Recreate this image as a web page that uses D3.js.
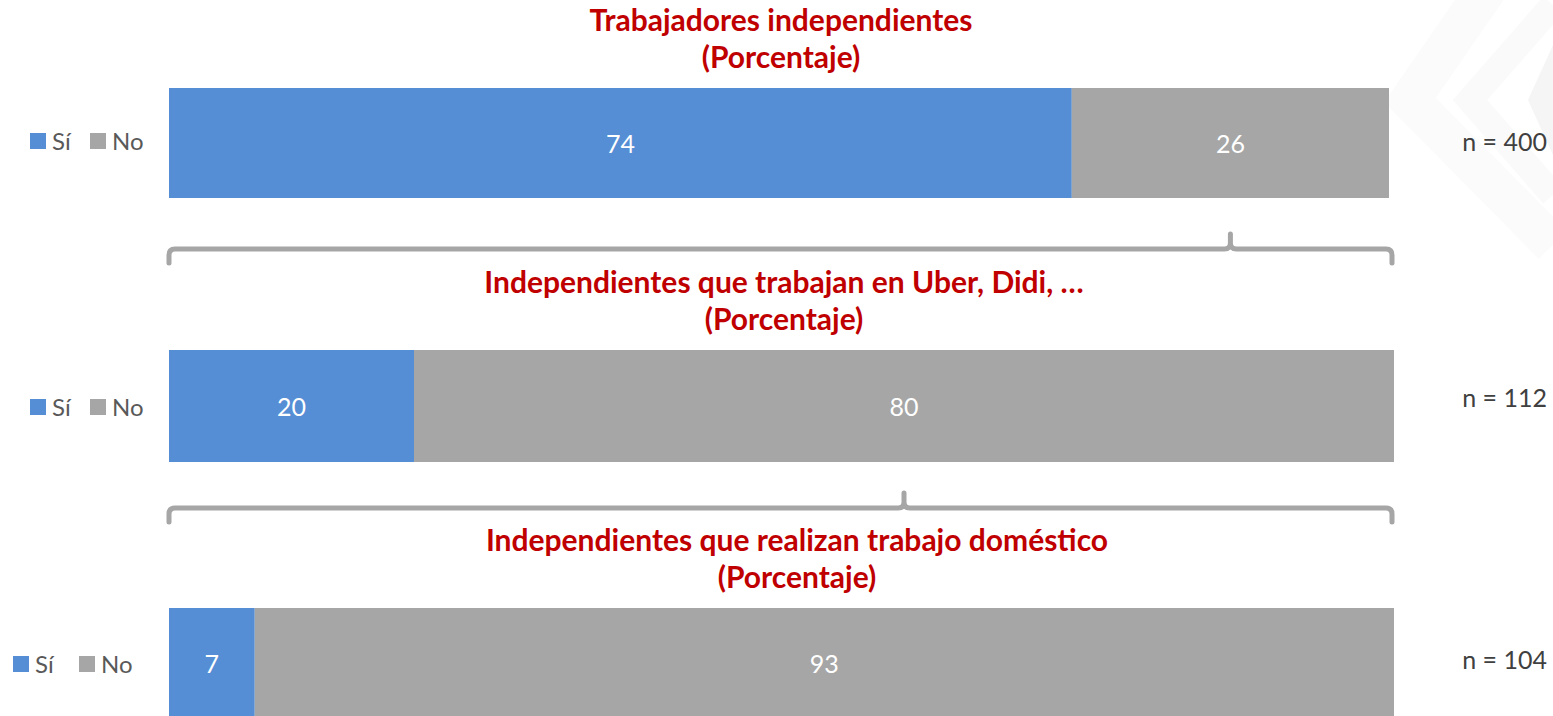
<!DOCTYPE html>
<html>
<head>
<meta charset="utf-8">
<script src="https://cdn.jsdelivr.net/npm/d3@7"></script>
<style>
  html, body { margin: 0; padding: 0; background: #fff; }
  svg { display: block; font-family: Lato, "Open Sans", sans-serif; }
</style>
</head>
<body>
<svg id="chart" width="1553" height="716"></svg>
<script>
// chart values
const panelTitles = [
    "Trabajadores independientes",
    "Independientes que trabajan en Uber, Didi, \u2026",
    "Independientes que realizan trabajo dom\u00e9stico"
];
const subtitle = "(Porcentaje)";
const seriesNames = ["S\u00ed", "No"];
const siValues = [74, 20, 7];
const noValues = [26, 80, 93];
const sampleSizes = [400, 112, 104];

const colors = { "S\u00ed": "#558ed5", "No": "#a6a6a6" };

// layout of each panel
const layout = [
    { barTop: 88,  barH: 110, right: 1389, titleX: 781, titleY: 31,  legendX: 30, legendY: 141, gap: 60, nY: 142 },
    { barTop: 350, barH: 112, right: 1394, titleX: 784, titleY: 293, legendX: 30, legendY: 407, gap: 60, nY: 398 },
    { barTop: 608, barH: 110, right: 1394, titleX: 797, titleY: 551, legendX: 13, legendY: 664, gap: 66, nY: 660 }
];
const barLeft = 169;

const svg = d3.select("#chart");

// faint watermark chevrons in the top right corner
const wm = svg.append("g").attr("class", "watermark");
wm.append("polygon")
    .attr("points", "1553,45 1528,100 1553,155")
    .attr("fill", "#f5f5f5");
wm.append("polyline")
    .attr("points", "1500,-30 1410,100 1553,245")
    .attr("fill", "none").attr("stroke", "#fbfbfb").attr("stroke-width", 40);
wm.append("polyline")
    .attr("points", "1553,5 1470,100 1553,195")
    .attr("fill", "none").attr("stroke", "#fafafa").attr("stroke-width", 26);

const scales = layout.map(l => d3.scaleLinear().domain([0, 100]).range([barLeft, l.right]));

panelTitles.forEach((title, i) => {
    const l = layout[i];
    const x = scales[i];
    const g = svg.append("g").attr("class", "panel");

    // title
    const t = g.append("text")
        .attr("x", l.titleX).attr("y", l.titleY)
        .attr("text-anchor", "middle")
        .attr("fill", "#c00000")
        .attr("font-weight", "bold")
        .attr("font-size", "30px");
    t.append("tspan").attr("x", l.titleX).text(title);
    t.append("tspan").attr("x", l.titleX).attr("dy", "1.23em").text(subtitle);

    // stacked bar
    const segs = [
        { name: seriesNames[0], start: 0, value: siValues[i] },
        { name: seriesNames[1], start: siValues[i], value: noValues[i] }
    ];
    g.selectAll("rect.seg")
        .data(segs)
        .join("rect")
        .attr("class", "seg")
        .attr("x", d => x(d.start))
        .attr("y", l.barTop)
        .attr("width", d => x(d.start + d.value) - x(d.start))
        .attr("height", l.barH)
        .attr("fill", d => colors[d.name]);

    g.selectAll("text.val")
        .data(segs)
        .join("text")
        .attr("class", "val")
        .attr("x", d => x(d.start + d.value / 2))
        .attr("y", l.barTop + l.barH / 2 + 1)
        .attr("dy", "0.36em")
        .attr("text-anchor", "middle")
        .attr("fill", "#ffffff")
        .attr("font-size", "25px")
        .text(d => d.value);

    // legend
    const lg = g.append("g").attr("transform", `translate(${l.legendX},${l.legendY})`);
    const items = [{ name: seriesNames[0], dx: 0 }, { name: seriesNames[1], dx: l.gap }];
    items.forEach(it => {
        lg.append("rect")
            .attr("x", it.dx).attr("y", -8)
            .attr("width", 16).attr("height", 16)
            .attr("fill", colors[it.name]);
        lg.append("text")
            .attr("x", it.dx + 22).attr("y", 0)
            .attr("dy", "0.36em")
            .attr("fill", "#595959")
            .attr("font-size", "24px")
            .text(it.name);
    });

    // sample size
    g.append("text")
        .attr("x", 1547).attr("y", l.nY)
        .attr("dy", "0.36em")
        .attr("text-anchor", "end")
        .attr("fill", "#404040")
        .attr("font-size", "25px")
        .text("n = " + sampleSizes[i]);
});

// braces linking each panel to the next, pointing at the "No" segment above
const braceY = [249, 508];
braceY.forEach((y0, i) => {
    const x0 = barLeft;
    const x1 = layout[i + 1].right - 2;
    const tip = scales[i](siValues[i] + noValues[i] / 2);
    const r = 6;
    const path = d3.path();
    path.moveTo(x0, y0 + 14);
    path.lineTo(x0, y0 + r);
    path.quadraticCurveTo(x0, y0, x0 + r, y0);
    path.lineTo(tip - r, y0);
    path.quadraticCurveTo(tip, y0, tip, y0 - r);
    path.lineTo(tip, y0 - 15);
    path.moveTo(tip, y0 - r);
    path.quadraticCurveTo(tip, y0, tip + r, y0);
    path.lineTo(x1 - r, y0);
    path.quadraticCurveTo(x1, y0, x1, y0 + r);
    path.lineTo(x1, y0 + 14);
    svg.append("path")
        .attr("d", path.toString())
        .attr("fill", "none")
        .attr("stroke", "#a6a6a6")
        .attr("stroke-width", 5)
        .attr("stroke-linecap", "round")
        .attr("stroke-linejoin", "round");
});
</script>
</body>
</html>
